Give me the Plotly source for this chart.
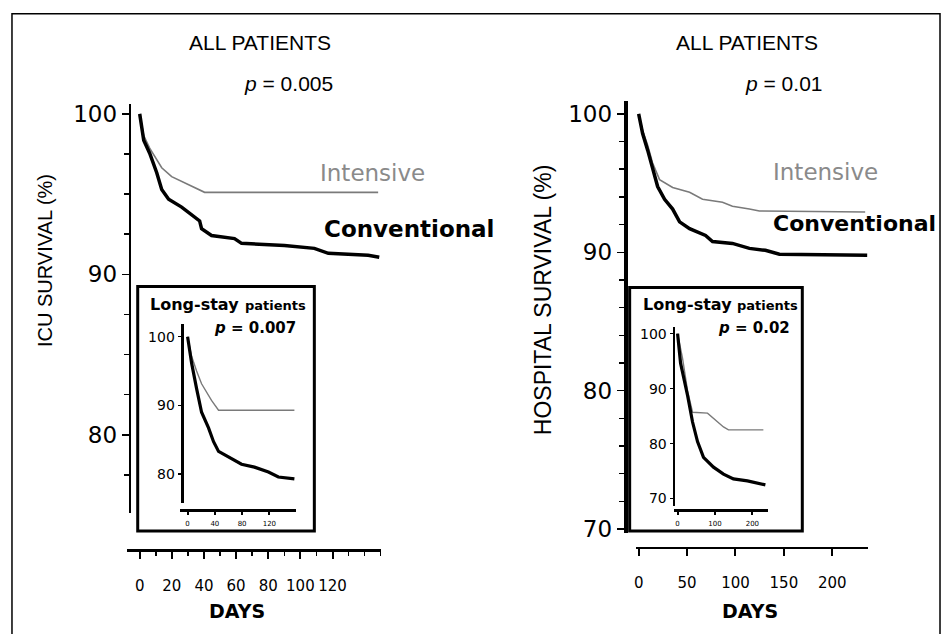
import plotly.graph_objects as go

W, H = 944, 643


def px(x):
    return x / W


def py(y):
    return 1 - y / H


# ---------------- data (days, survival %) ----------------
# ICU survival, all patients
icu_days_conv = [0, 2.5, 6.2, 10.6, 13.7, 18.0, 26.1, 33.5, 37.3, 38.5, 44.7, 59.0, 63.4, 90.1, 108.7, 117.4, 142.2, 149.1]
icu_surv_conv = [100, 98.35, 97.55, 96.33, 95.29, 94.68, 94.19, 93.64, 93.33, 92.84, 92.42, 92.23, 91.93, 91.80, 91.62, 91.31, 91.19, 91.07]
icu_days_int = [0, 2.5, 6.2, 10.6, 13.7, 19.9, 30.4, 36.6, 40.4, 148.4]
icu_surv_int = [100, 98.65, 97.86, 97.13, 96.64, 96.09, 95.60, 95.29, 95.11, 95.11]

# Hospital survival, all patients
hosp_days_conv = [0, 4.1, 9.3, 14.4, 19.6, 26.8, 35.1, 42.3, 52.6, 69.1, 76.3, 96.9, 114.4, 130.9, 145.4, 236.1]
hosp_surv_conv = [100, 98.58, 97.38, 95.96, 94.75, 93.83, 93.12, 92.20, 91.70, 91.21, 90.78, 90.64, 90.28, 90.14, 89.86, 89.79]
hosp_days_int = [0, 4.1, 9.3, 14.4, 21.6, 35.1, 52.6, 66.0, 86.6, 96.9, 114.4, 124.7, 234.0]
hosp_surv_int = [100, 98.80, 97.73, 96.45, 95.25, 94.68, 94.33, 93.83, 93.62, 93.33, 93.12, 92.98, 92.91]

# ICU survival, long-stay patients (inset)
icu_ls_days_conv = [0, 5.9, 13.2, 20.5, 30.7, 38.1, 45.4, 60.0, 79.1, 98.1, 118.6, 133.2, 156.7]
icu_ls_surv_conv = [100, 96.14, 92.43, 89.00, 86.71, 84.71, 83.29, 82.43, 81.43, 81.00, 80.29, 79.57, 79.29]
icu_ls_days_int = [0, 5.9, 13.2, 20.5, 35.1, 45.4, 156.7]
icu_ls_surv_int = [100, 97.14, 95.00, 93.14, 90.71, 89.29, 89.29]

# Hospital survival, long-stay patients (inset)
hosp_ls_days_conv = [0, 8.0, 26.7, 40.0, 53.3, 69.3, 96.0, 122.7, 149.3, 186.7, 234.7]
hosp_ls_surv_conv = [100, 94.64, 88.75, 83.93, 80.36, 77.50, 75.71, 74.46, 73.57, 73.21, 72.50]
hosp_ls_days_int = [0, 13.3, 26.7, 40.0, 80.0, 96.0, 122.7, 136.0, 229.3]
hosp_ls_surv_int = [100, 95.5, 89.6, 85.71, 85.54, 84.64, 83.04, 82.5, 82.5]

# tick labels
icu_x_ticks = [0, 20, 40, 60, 80, 100, 120]
hosp_x_ticks = [0, 50, 100, 150, 200]
icu_y_ticks = [80, 90, 100]
hosp_y_ticks = [70, 80, 90, 100]
icu_ls_x_ticks = [0, 40, 80, 120]
hosp_ls_x_ticks = [0, 100, 200]
icu_ls_y_ticks = [80, 90, 100]
hosp_ls_y_ticks = [70, 80, 90, 100]

CONV_COLOR = "#000000"
INT_COLOR = "#7a7a7a"

fig = go.Figure()


def add_pair(xd, yd, xi, yi, xa, ya, wconv, wint):
    fig.add_trace(go.Scatter(x=xi, y=yi, mode="lines", xaxis=xa, yaxis=ya,
                             line=dict(color=INT_COLOR, width=wint),
                             name="Intensive", showlegend=False, hoverinfo="skip"))
    fig.add_trace(go.Scatter(x=xd, y=yd, mode="lines", xaxis=xa, yaxis=ya,
                             line=dict(color=CONV_COLOR, width=wconv),
                             name="Conventional", showlegend=False, hoverinfo="skip"))


add_pair(icu_days_conv, icu_surv_conv, icu_days_int, icu_surv_int, "x", "y", 3.5, 1.6)
add_pair(hosp_days_conv, hosp_surv_conv, hosp_days_int, hosp_surv_int, "x2", "y2", 3.5, 1.6)
add_pair(icu_ls_days_conv, icu_ls_surv_conv, icu_ls_days_int, icu_ls_surv_int, "x3", "y3", 3.2, 1.4)
add_pair(hosp_ls_days_conv, hosp_ls_surv_conv, hosp_ls_days_int, hosp_ls_surv_int, "x4", "y4", 3.2, 1.4)

base_axis = dict(showgrid=False, zeroline=False, showline=True, linecolor="black",
                 ticks="outside", tickcolor="black", fixedrange=True)


def xax(domain, rng, pos, ticks, size, lw, tl, standoff, minor=None):
    d = dict(base_axis, domain=domain, range=rng, anchor="free", position=pos,
             linewidth=lw, ticklen=tl, tickwidth=2, tickvals=ticks,
             ticktext=[str(t) for t in ticks],
             tickfont=dict(family="DejaVu Sans", size=size, color="black"),
             ticklabelstandoff=standoff)
    if minor:
        d["minor"] = minor
    return d


def yax(domain, rng, pos, ticks, size, lw, tl, minor=None):
    d = dict(base_axis, domain=domain, range=rng, anchor="free", position=pos,
             linewidth=lw, ticklen=tl, tickwidth=1.5, tickvals=ticks,
             ticktext=[str(t) for t in ticks],
             tickfont=dict(family="DejaVu Sans", size=size, color="black"))
    if minor:
        d["minor"] = minor
    return d


fig.update_layout(
    width=W, height=H,
    margin=dict(l=0, r=0, t=0, b=0),
    paper_bgcolor="white", plot_bgcolor="rgba(0,0,0,0)",
    showlegend=False,
    xaxis=xax([px(125), px(380)], [-8.07, 150.3], py(557), icu_x_ticks, 15, 3, 7, 14,
              minor=dict(dtick=10, ticks="outside", ticklen=4, tickcolor="black", tickwidth=1.5)),
    yaxis=yax([py(520), py(103)], [75.11, 100.61], px(128), icu_y_ticks, 23, 2, 7,
              minor=dict(dtick=2.5, ticks="outside", ticklen=5, tickcolor="black", tickwidth=1.5)),
    xaxis2=xax([px(635), px(868)], [-3.1, 237.1], py(555), hosp_x_ticks, 15, 2.5, 7, 14),
    yaxis2=yax([py(540), py(100)], [69.72, 100.92], px(625), hosp_y_ticks, 23, 4, 7,
               minor=dict(dtick=2, ticks="outside", ticklen=5, tickcolor="black", tickwidth=1.5)),
    xaxis3=xax([px(178), px(295)], [-11.7, 159.6], py(517), icu_ls_x_ticks, 7, 3, 3, 2),
    yaxis3=yax([py(510), py(327)], [75.71, 101.86], px(180), icu_ls_y_ticks, 14, 3, 3),
    xaxis4=xax([px(673), px(768)], [-10.7, 242.7], py(517), hosp_ls_x_ticks, 7, 3, 3, 2),
    yaxis4=yax([py(513), py(330)], [68.57, 101.25], px(673), hosp_ls_y_ticks, 14, 2.5, 3),
)

# outer frame (open at the bottom edge, kept inside the figure)
frame_path = "M {l},{b} L {l},{t} L {r},{t} L {r},{b}".format(
    l=px(10), r=px(940), t=py(11), b=py(643))
shapes = [
    dict(type="path", xref="paper", yref="paper", path=frame_path,
         line=dict(color="black", width=1.5), layer="below"),
    dict(type="rect", xref="paper", yref="paper", x0=px(136), x1=px(313), y0=py(538), y1=py(289),
         line=dict(color="black", width=3), fillcolor="white", layer="below"),
    dict(type="rect", xref="paper", yref="paper", x0=px(629), x1=px(802), y0=py(538), y1=py(290),
         line=dict(color="black", width=3), fillcolor="white", layer="below"),
]
fig.update_layout(shapes=shapes)


def ann(text, x, y, size, family="Liberation Sans", color="black", xanchor="center", angle=0):
    fig.add_annotation(text=text, xref="paper", yref="paper", x=px(x), y=py(y),
                       xanchor=xanchor, yanchor="middle", showarrow=False, textangle=angle,
                       font=dict(family=family, size=size, color=color))


# panel titles
ann("ALL PATIENTS", 259, 40, 21)
ann("ALL PATIENTS", 747, 40, 21)
ann("<i>p</i> = 0.005", 287, 82, 21)
ann("<i>p</i> = 0.01", 784, 82, 21)

# curve labels
ann("Intensive", 317, 173, 23, family="DejaVu Sans", color="#8a8a8a", xanchor="left")
ann("Intensive", 771, 172, 23, family="DejaVu Sans", color="#8a8a8a", xanchor="left")
ann("<b>Conventional</b>", 321, 230, 23, family="DejaVu Sans", xanchor="left")
ann("<b>Conventional</b>", 771, 225, 22, family="DejaVu Sans", xanchor="left")

# axis titles
ann("ICU SURVIVAL (%)", 43, 262, 20, angle=-90)
ann("HOSPITAL SURVIVAL (%)", 543, 302, 23, angle=-90)
ann("<b>DAYS</b>", 235, 620, 19, family="DejaVu Sans")
ann("<b>DAYS</b>", 750, 620, 19, family="DejaVu Sans")

# inset labels
ann("<b>Long-stay</b>", 146, 307, 16, family="DejaVu Sans", xanchor="left")
ann("<b>patients</b>", 242, 308, 13, family="DejaVu Sans", xanchor="left")
ann("<b><i>p</i> = 0.007</b>", 297, 331, 15, family="DejaVu Sans", xanchor="right")
ann("<b>Long-stay</b>", 640, 307, 16, family="DejaVu Sans", xanchor="left")
ann("<b>patients</b>", 735, 308, 13, family="DejaVu Sans", xanchor="left")
ann("<b><i>p</i> = 0.02</b>", 792, 331, 15, family="DejaVu Sans", xanchor="right")

fig.write_html(
    "out.html",
    config={"displayModeBar": False, "staticPlot": True},
    post_script="document.documentElement.style.margin='0';"
                "document.body.style.margin='0';"
                "document.documentElement.style.overflow='hidden';"
                "document.body.style.overflow='hidden';",
)
